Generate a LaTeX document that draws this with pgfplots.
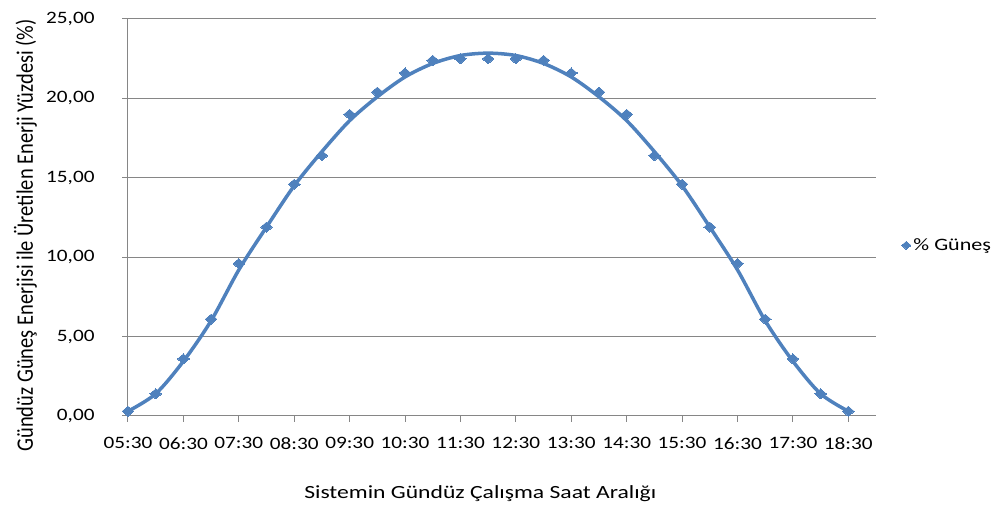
\documentclass[border=0pt]{standalone}
\usepackage{fontspec}
\setmainfont{Carlito}
\usepackage{pgfplots}
\pgfplotsset{compat=1.18}
\definecolor{exblue}{HTML}{4F81BD}
\definecolor{gridgray}{HTML}{868686}
\begin{document}
\begin{tikzpicture}
\begin{axis}[name=ax, scale only axis, width=748pt, height=397pt,
  xmin=5.5, xmax=19, ymin=0, ymax=25,
  axis x line*=bottom, axis y line*=left,
  axis line style={-, draw=gridgray, line width=1pt},
  ytick={0,5,10,15,20,25},
  xtick={5.5,6.5,7.5,8.5,9.5,10.5,11.5,12.5,13.5,14.5,15.5,16.5,17.5,18.5},
  xticklabels={05:30,06:30,07:30,08:30,09:30,10:30,11:30,12:30,13:30,14:30,15:30,16:30,17:30,18:30},
  ymajorgrids, major grid style={draw=gridgray, line width=1pt},
  tick style={draw=gridgray, line width=1pt}, tick align=outside, major tick length=6pt,
  yticklabel style={/pgf/number format/fixed, /pgf/number format/fixed zerofill, /pgf/number format/precision=2, /pgf/number format/use comma},
  /pgf/number format/assume math mode=true,
  tick label style={font=\fontsize{17.4}{20}\selectfont},
  xticklabel style={xscale=1.22, yshift=-12pt},
  yticklabel style={xscale=1.22, xshift=-19pt},
  xlabel={Sistemin Gündüz Çalışma Saat Aralığı},
  xlabel style={font=\fontsize{18.6}{22}\selectfont, xscale=1.27, at={(axis description cs:0.471,0)}, anchor=center, yshift=-78pt},
  ylabel={Gündüz Güneş Enerjisi ile Üretilen Enerji Yüzdesi (\%)},
  ylabel style={font=\fontsize{20.5}{24}\selectfont, at={(axis description cs:-0.137,0.455)}, anchor=center, yscale=1.15},
  legend style={at={(axis description cs:1.03,0.43)}, anchor=west, draw=none, fill=none,
    font=\fontsize{17.4}{20}\selectfont, legend cell align=left, nodes={xscale=1.27}},
  legend image code/.code={\draw[#1, mark size=4pt] (0.1cm,0cm) -- plot coordinates {(0.1cm,0cm)};},
  clip=false,
]
\addplot[only marks, mark=diamond*, mark size=5pt, mark options={fill=exblue, draw=exblue, line width=0pt, xscale=1.55}]
coordinates {
(5.5,0.3)(6.0,1.4)(6.5,3.6)(7.0,6.1)(7.5,9.6)(8.0,11.9)(8.5,14.6)(9.0,16.4)(9.5,19.0)
(10.0,20.4)(10.5,21.6)(11.0,22.4)(11.5,22.5)(12.0,22.5)(12.5,22.5)(13.0,22.4)(13.5,21.6)
(14.0,20.4)(14.5,19.0)(15.0,16.4)(15.5,14.6)(16.0,11.9)(16.5,9.6)(17.0,6.1)(17.5,3.6)
(18.0,1.4)(18.5,0.3)};
\addlegendentry{\% Güneş}
\addplot[exblue, line width=3.5pt, smooth, forget plot]
coordinates {
(5.5,0.3)(6.0,1.4)(6.5,3.45)(7.0,6.0)(7.5,9.2)(8.0,11.9)(8.5,14.5)(9.0,16.65)(9.5,18.6)
(10.0,20.1)(10.5,21.35)(11.0,22.2)(11.5,22.7)(12.0,22.85)(12.5,22.7)(13.0,22.2)(13.5,21.35)
(14.0,20.1)(14.5,18.6)(15.0,16.65)(15.5,14.5)(16.0,11.9)(16.5,9.2)(17.0,6.0)(17.5,3.45)
(18.0,1.4)(18.5,0.3)};
\end{axis}
\pgfresetboundingbox
\path[use as bounding box] ([shift={(-128pt,-94pt)}]ax.south west) rectangle ([shift={(119pt,19pt)}]ax.north east);
\end{tikzpicture}
\end{document}
